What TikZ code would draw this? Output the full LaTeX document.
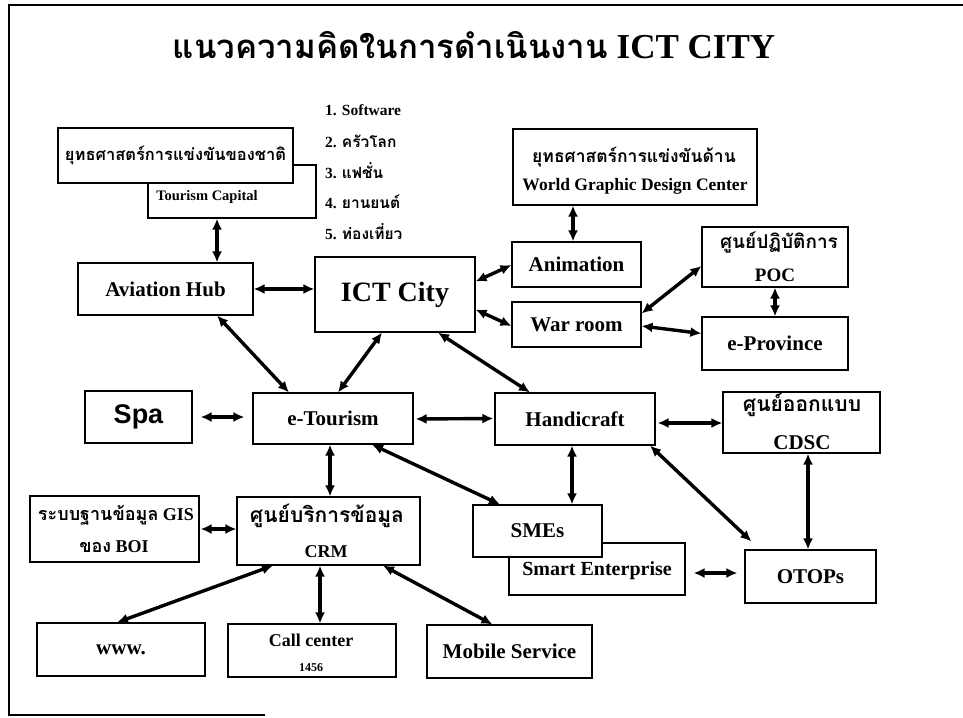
\documentclass[tikz,border=0pt]{standalone}
\usepackage{fontspec}
\setmainfont{Liberation Serif}
\newfontfamily\thaifont[Script=Thai]{Loma}
\newfontfamily\arialfont{Liberation Sans}
\usetikzlibrary{arrows.meta}

\begin{document}
\begin{tikzpicture}[x=1pt,y=-1pt,
  box/.style={draw,line width=1.1pt,fill=white,inner sep=0pt,align=center,
    font=\bfseries\fontsize{21}{24}\selectfont},
  sz/.style 2 args={minimum width=#1pt,minimum height=#2pt},
  txt/.style={inner sep=0pt,font=\bfseries\fontsize{#1}{#1}\selectfont},
  thtxt/.style={inner sep=0pt,font=\thaifont\bfseries\fontsize{#1}{#1}\selectfont},
  listitem/.style={anchor=west,inner sep=0pt,font=\bfseries\fontsize{15.5}{17}\selectfont},
  link/.style={line width=3.4pt,{Latex[length=11pt,width=10pt]}-{Latex[length=11pt,width=10pt]}},
]
\useasboundingbox (0,0) rectangle (963,717);

% outer frame
\draw[line width=2pt] (963,5) -- (9,5) -- (9,715) -- (265,715);

% title
\node[inner sep=0pt,font=\bfseries\fontsize{35}{40}\selectfont] (title) at (474,45)
  {{\thaifont\fontsize{33}{40}\selectfont แนวความคิดในการดำเนินงาน} ICT CITY};

% national strategy boxes
\node[box,sz={168}{53}] (tour) at (232,191.5) {};
\node[txt=14.5] (tourtxt) at (207,197) {Tourism Capital};
\node[box,sz={235}{55},font=\thaifont\bfseries\fontsize{16.5}{18}\selectfont] (nat) at (175.5,155.5)
  {ยุทธศาสตร์การแข่งขันของชาติ};

\node[listitem] (l1) at (325,110) {1. Software};
\node[listitem] (l2) at (325,141) {2. {\thaifont ครัวโลก}};
\node[listitem] (l3) at (325,171) {3. {\thaifont แฟชั่น}};
\node[listitem] (l4) at (325,202) {4. {\thaifont ยานยนต์}};
\node[listitem] (l5) at (325,232) {5. {\thaifont ท่องเที่ยว}};

\node[box,sz={244}{76}] (wgdc) at (635,167) {};
\node[thtxt=17.5] (wgdcA) at (634,157) {ยุทธศาสตร์การแข่งขันด้าน};
\node[txt=17.5] (wgdcB) at (635,186) {World Graphic Design Center};

% middle row
\node[box,sz={175}{52}] (aviation) at (165.5,289) {Aviation Hub};
\node[box,sz={160}{75},font=\bfseries\fontsize{28}{32}\selectfont] (ict) at (395,294.5) {ICT City};
\node[box,sz={129}{45}] (anim) at (576.5,264.5) {Animation};
\node[box,sz={129}{45}] (war) at (576.5,324.5) {War room};
\node[box,sz={146}{60}] (poc) at (775,257) {};
\node[thtxt=19] (pocA) at (779,242) {ศูนย์ปฏิบัติการ};
\node[txt=19] (pocB) at (775,275) {POC};
\node[box,sz={146}{53}] (eprov) at (775,343.5) {e-Province};

\node[box,sz={107}{52},font=\arialfont\bfseries\fontsize{27}{30}\selectfont] (spa) at (138.5,417) {Spa};
\node[box,sz={160}{51}] (etour) at (333,418.5) {e-Tourism};
\node[box,sz={160}{52}] (handi) at (575,419) {Handicraft};
\node[box,sz={157}{61}] (cdsc) at (801.5,422.5) {};
\node[thtxt=21] (cdscA) at (802,405) {ศูนย์ออกแบบ};
\node[txt=21] (cdscB) at (802,443) {CDSC};

% lower part
\node[box,sz={169}{66}] (gis) at (114.5,529) {};
\node[txt=18] (gisA) at (116,515) {{\thaifont ระบบฐานข้อมูล} GIS};
\node[txt=18] (gisB) at (114,547) {{\thaifont ของ} BOI};
\node[box,sz={183}{68}] (crm) at (328.5,531) {};
\node[thtxt=21] (crmA) at (327,516) {ศูนย์บริการข้อมูล};
\node[txt=18] (crmB) at (326,552) {CRM};
\node[box,sz={176}{52}] (smart) at (597,569) {};
\node[txt=20] (smarttxt) at (597,571) {Smart Enterprise};
\node[box,sz={129}{52}] (smes) at (537.5,531) {SMEs};
\node[box,sz={131}{53}] (otops) at (810.5,576.5) {OTOPs};

\node[box,sz={168}{53}] (www) at (121,649.5) {www.};
\node[box,sz={168}{53}] (call) at (312,650.5) {};
\node[txt=18] (callA) at (311,640) {Call center};
\node[txt=12] (callB) at (311,668) {1456};
\node[box,sz={165}{53}] (mobile) at (509.5,651.5) {Mobile Service};

% connectors
\draw[link] ([xshift=51.5]aviation.north) -- ([xshift=51.5]aviation.north |- tour.south);
\draw[link] ([xshift=-3.5]anim.north) -- ([xshift=-3.5]anim.north |- wgdc.south);
\draw[link] (aviation.east) -- (aviation.east -| ict.west);
\draw[link] ([yshift=13]ict.east) -- ([yshift=-0.5]anim.west);
\draw[link] ([yshift=-15]ict.east) -- ([yshift=-1.5]war.west);
\draw[link] ([yshift=11]war.east) -- ([yshift=-9]poc.west);
\draw[link] ([yshift=-1.5]war.east) -- ([yshift=10]eprov.west);
\draw[link] (poc.south) -- (eprov.north);

\draw[link] ([xshift=51.5]aviation.south) -- ([xshift=-44]etour.north);
\draw[link] ([xshift=-13]ict.south) -- ([xshift=5]etour.north);
\draw[link] ([xshift=43]ict.south) -- ([xshift=-45]handi.north);
\draw[link] ([xshift=8]spa.east) -- ([xshift=-8]spa.east -| etour.west);
\draw[link] ([xshift=2,yshift=-0.5]etour.east) -- ([xshift=-1]etour.east -| handi.west);
\draw[link] ([xshift=2,yshift=-4]handi.east) -- ([yshift=-4]handi.east -| cdsc.west);
\draw[link] ([xshift=-3]handi.south) -- ([xshift=-3]handi.south |- smes.north);
\draw[link] ([xshift=75]handi.south) -- ([xshift=7,yshift=8]otops.north west);
\draw[link] ([xshift=6.5]cdsc.south) -- ([xshift=6.5]cdsc.south |- otops.north);
\draw[link] ([xshift=8,yshift=-4]smart.east) -- ([xshift=-7,yshift=-4]smart.east -| otops.west);

\draw[link] ([xshift=1.5]crm.north) -- ([xshift=-3]etour.south);
\draw[link] ([xshift=39]etour.south) -- ([xshift=-37.5]smes.north);
\draw[link] ([xshift=1]gis.east) -- (gis.east -| crm.west);
\draw[link] ([xshift=-55.5]crm.south) -- ([xshift=-4]www.north);
\draw[link] ([xshift=-8.5]crm.south) -- ([xshift=8]call.north);
\draw[link] ([xshift=54.5]crm.south) -- ([xshift=66]mobile.north west);
\end{tikzpicture}
\end{document}
